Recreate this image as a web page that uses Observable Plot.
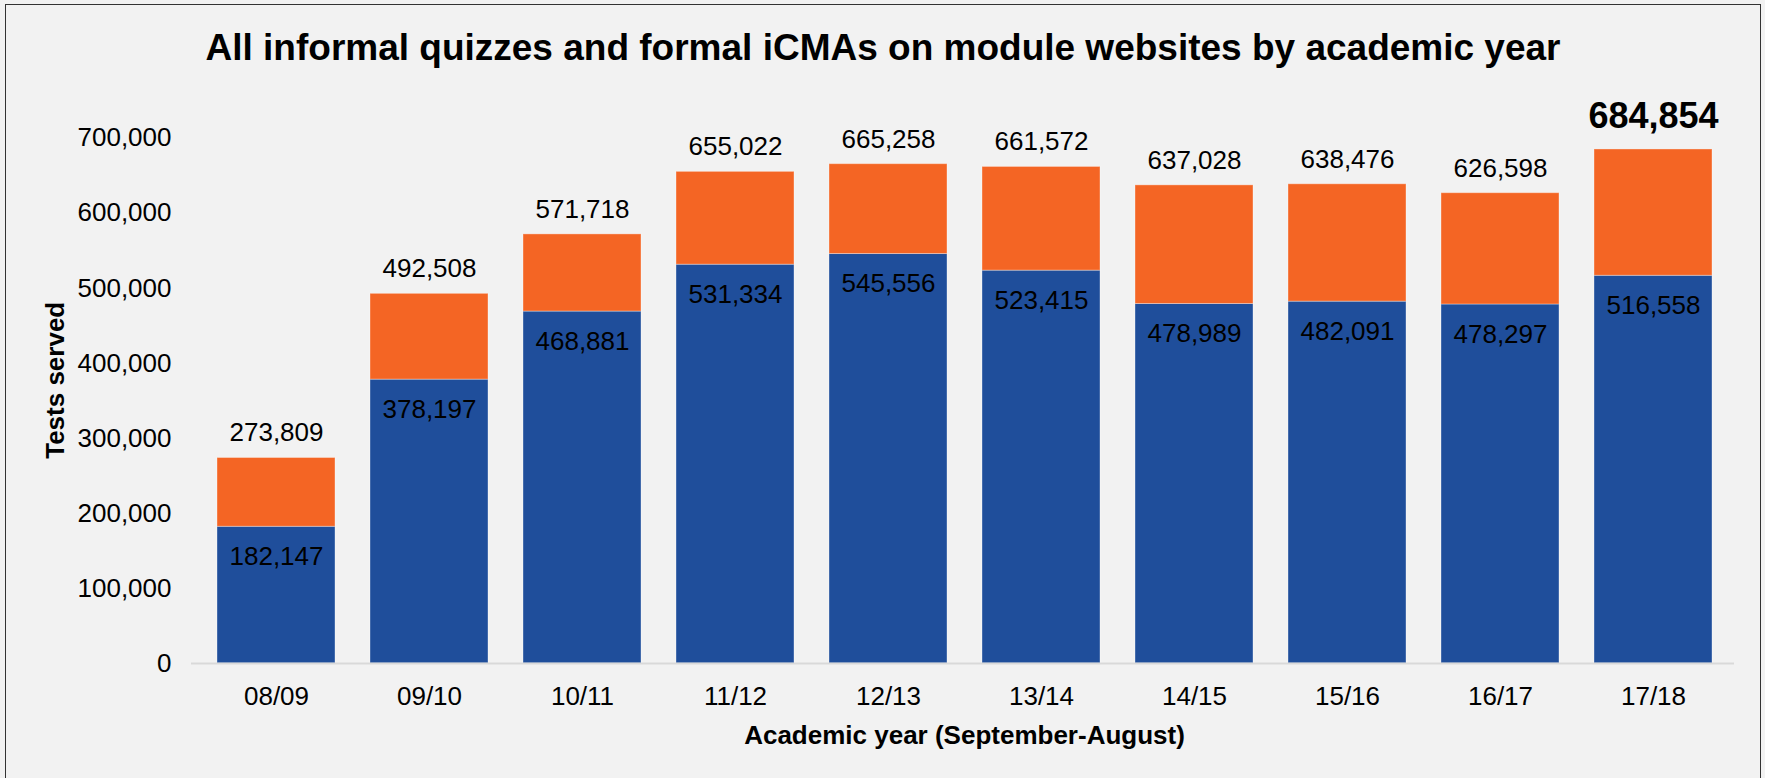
<!DOCTYPE html>
<html><head><meta charset="utf-8">
<script src="https://cdn.jsdelivr.net/npm/d3@7"></script>
<script src="https://cdn.jsdelivr.net/npm/@observablehq/plot@0.6"></script>
<style>
html,body{margin:0;padding:0;background:#f2f2f2;}
#wrap{position:relative;width:1765px;height:778px;overflow:hidden;}
#wrap svg{position:absolute;left:0;top:0;}
#frame{position:absolute;left:5px;top:4px;width:1756px;height:820px;border:1.5px solid #333;box-sizing:border-box;pointer-events:none;}
</style></head><body><div id="wrap"><div id="frame"></div></div>
<script>
const titleText = "All informal quizzes and formal iCMAs on module websites by academic year";
const xTitle = "Academic year (September-August)";
const yTitle = "Tests served";
const years = ["08/09","09/10","10/11","11/12","12/13","13/14","14/15","15/16","16/17","17/18"];
const lowerValues = [182147, 378197, 468881, 531334, 545556, 523415, 478989, 482091, 478297, 516558];
const totalValues = [273809, 492508, 571718, 655022, 665258, 661572, 637028, 638476, 626598, 684854];
const yTicks = [0, 100000, 200000, 300000, 400000, 500000, 600000, 700000];

const rows = years.map((year, i) => ({year, lower: lowerValues[i], total: totalValues[i], last: i === years.length - 1}));
const fmt = d3.format(",");
const font = "'Liberation Sans', Arial, sans-serif";

const chart = Plot.plot({
  width: 1765, height: 778,
  marginTop: 137.6, marginBottom: 115, marginLeft: 197, marginRight: 34,
  style: {background: "transparent", fontFamily: font, fontSize: "26px", color: "#000"},
  x: {domain: years, paddingInner: 0.23, paddingOuter: 0.115, axis: null},
  y: {domain: [0, 700000], axis: null},
  marks: [
    Plot.barY(rows, {x: "year", y1: 0, y2: "lower", fill: "#1f4e9b", stroke: "#ffffff", strokeOpacity: 0.35, strokeWidth: 1}),
    Plot.barY(rows, {x: "year", y1: "lower", y2: "total", fill: "#f46524", stroke: "#ffffff", strokeOpacity: 0.35, strokeWidth: 1}),
    Plot.ruleY([0], {stroke: "#d9d9d9", strokeWidth: 2, insetLeft: -6, insetRight: -3}),
    Plot.axisY({ticks: yTicks, tickSize: 0, tickPadding: 26, tickFormat: fmt, fontSize: 26, label: null}),
    Plot.axisX({tickSize: 0, tickPadding: 23, fontSize: 26, label: null}),
    Plot.text(rows, {filter: d => !d.last, x: "year", y: "total", text: d => fmt(d.total), dy: -25, lineAnchor: "middle", fontSize: 26}),
    Plot.text(rows, {filter: d => d.last, x: "year", y: "total", text: d => fmt(d.total), dy: -33, lineAnchor: "middle", fontSize: 36, fontWeight: "bold"}),
    Plot.text(rows, {x: "year", y: "lower", text: d => fmt(d.lower), dy: 30, lineAnchor: "middle", fontSize: 26}),
    Plot.text([xTitle], {text: d => d, frameAnchor: "bottom", dy: 72, lineAnchor: "middle", fontSize: 26, fontWeight: "bold"}),
    Plot.text([yTitle], {text: d => d, frameAnchor: "left", rotate: -90, dx: -142, dy: 58, lineAnchor: "middle", fontSize: 26, fontWeight: "bold"}),
    Plot.text([titleText], {text: d => d, frameAnchor: "top", dx: -81.5, dy: -90, lineAnchor: "middle", fontSize: 37, fontWeight: "bold"})
  ]
});
document.getElementById("wrap").appendChild(chart);
</script>
</body></html>
